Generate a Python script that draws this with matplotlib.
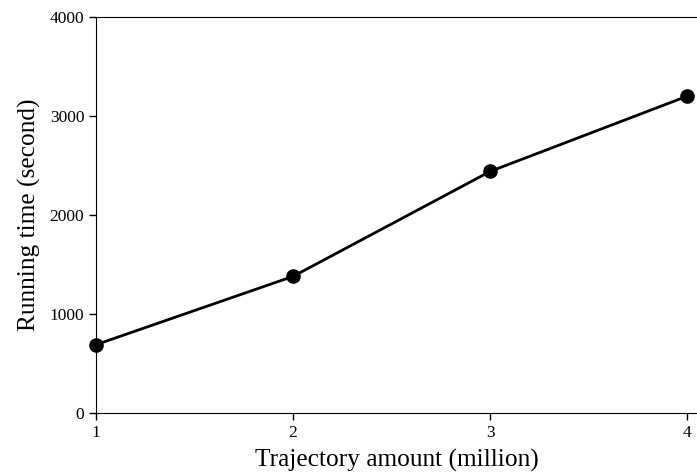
import matplotlib
matplotlib.use('Agg')
import matplotlib.pyplot as plt

# running time against number of trajectories
amounts = [1, 2, 3, 4]
times = [690, 1380, 2440, 3200]

plt.rcParams['font.family'] = 'Liberation Serif'

fig = plt.figure(figsize=(6.97, 4.74), dpi=100)
ax = fig.add_axes([96 / 697, 1 - 413 / 474, 1 - 96 / 697, (413 - 17) / 474])

ax.plot(amounts, times, 'k-', marker='o', linewidth=2, markersize=9.5, clip_on=False)

ax.set_xlim(1, 4.05)
ax.set_ylim(0, 4000)
ax.set_xticks(amounts)
ax.set_yticks([0, 1000, 2000, 3000, 4000])
ax.tick_params(labelsize=12.5, length=5, width=1)
ax.spines['right'].set_visible(False)

ax.set_xlabel('Trajectory amount (million)', fontsize=18.3, labelpad=6)
ax.set_ylabel('Running time (second)', fontsize=18.3, labelpad=6)

fig.savefig('out.png', dpi=100)
